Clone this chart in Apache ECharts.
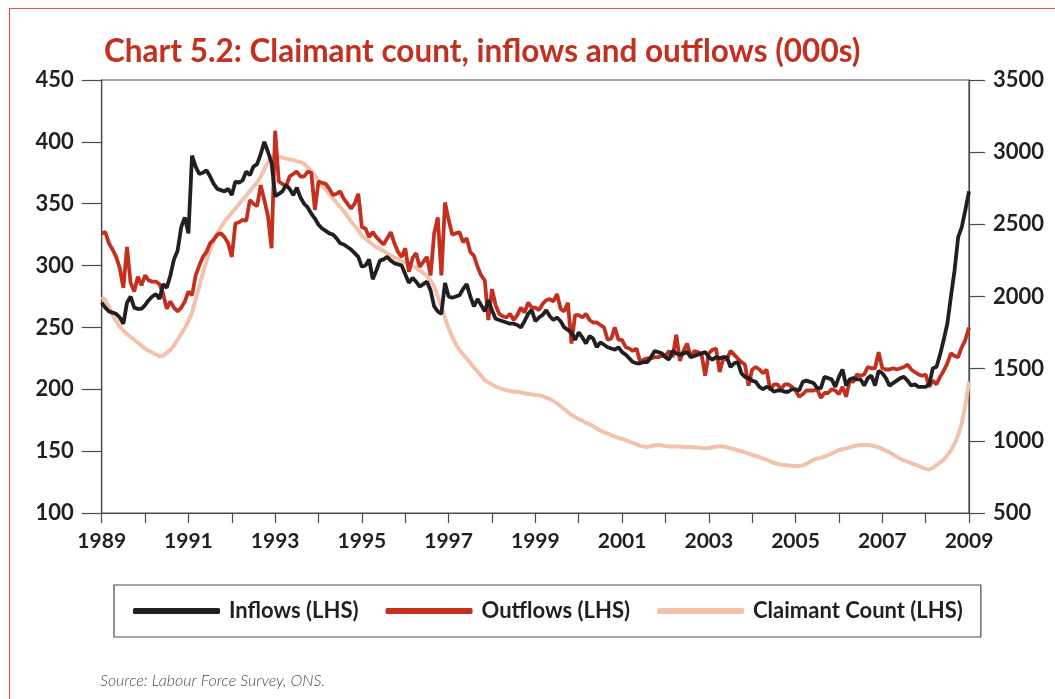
<!DOCTYPE html>
<html>
<head>
<meta charset="utf-8">
<script src="https://cdn.jsdelivr.net/npm/echarts@6/dist/echarts.min.js"></script>
<style>
  html, body { margin: 0; padding: 0; background: #fff; }
  #chart { width: 1055px; height: 699px; }
</style>
</head>
<body>
<div id="chart"></div>
<script>
// monthly, Jan 1989 .. Jan 2009
const startYear = 1989

const inflows = [
  270, 266, 263, 262, 261, 258, 253, 270, 275, 266, 265, 265,
  268, 272, 275, 277, 273, 285, 282, 292, 305, 312, 331, 339,
  326, 389, 380, 374, 375, 377, 372, 366, 362, 361, 360, 362,
  357, 368, 367, 369, 376, 373, 380, 382, 390, 400, 392, 383,
  356, 358, 360, 365, 362, 357, 363, 355, 350, 347, 342, 338,
  333, 330, 328, 326, 325, 322, 318, 317, 315, 313, 310, 307,
  299, 300, 305, 289, 296, 304, 305, 307, 304, 302, 301, 300,
  293, 286, 290, 287, 283, 285, 287, 280, 267, 263, 261, 286,
  275, 274, 275, 276, 281, 285, 275, 267, 273, 268, 263, 272,
  264, 257, 256, 255, 254, 253, 253, 252, 250, 255, 261, 264,
  255, 258, 260, 264, 259, 256, 258, 255, 250, 248, 246, 240,
  246, 242, 237, 243, 241, 234, 238, 236, 234, 233, 232, 234,
  230, 228, 225, 222, 221, 221, 222, 222, 226, 231, 230, 229,
  226, 224, 231, 229, 228, 229, 230, 226, 227, 228, 229, 230,
  226, 224, 226, 225, 226, 226, 218, 221, 222, 213, 210, 209,
  207, 206, 202, 200, 202, 201, 198, 199, 199, 198, 198, 200,
  200, 199, 206, 207, 206, 205, 201, 201, 210, 209, 208, 202,
  210, 216, 203, 208, 209, 208, 208, 203, 209, 211, 203, 215,
  213, 209, 203, 205, 207, 209, 210, 207, 203, 204, 202, 202,
  202, 204, 217, 218, 228, 240, 253, 275, 296, 323, 331, 345,
  360
]

const outflows = [
  326, 327, 318, 313, 307, 298, 282, 315, 286, 279, 291, 284,
  292, 288, 287, 287, 285, 277, 265, 271, 266, 263, 266, 271,
  279, 276, 292, 300, 307, 311, 318, 321, 325, 326, 323, 318,
  307, 334, 335, 337, 336, 353, 350, 348, 365, 353, 340, 314,
  409, 368, 366, 364, 372, 374, 376, 372, 372, 376, 375, 345,
  368, 367, 366, 362, 357, 358, 360, 354, 350, 346, 350, 358,
  331, 330, 323, 327, 323, 320, 317, 322, 327, 318, 311, 307,
  314, 295, 306, 310, 299, 303, 307, 292, 326, 339, 292, 351,
  337, 325, 326, 327, 319, 322, 311, 308, 299, 292, 288, 256,
  281, 268, 261, 259, 258, 261, 256, 260, 266, 262, 270, 266,
  266, 264, 269, 272, 273, 271, 277, 265, 263, 270, 237, 260,
  260, 258, 261, 256, 254, 254, 252, 250, 240, 241, 250, 240,
  240, 234, 233, 231, 233, 222, 224, 225, 225, 226, 226, 227,
  227, 231, 226, 244, 223, 231, 237, 226, 231, 230, 228, 211,
  229, 232, 233, 214, 225, 224, 231, 228, 225, 222, 220, 203,
  216, 218, 216, 213, 216, 199, 204, 204, 200, 204, 204, 202,
  199, 194, 196, 199, 199, 199, 200, 193, 197, 197, 200, 199,
  196, 202, 194, 207, 206, 212, 211, 212, 218, 217, 217, 230,
  217, 216, 216, 217, 216, 217, 218, 220, 216, 214, 212, 211,
  212, 202, 207, 204, 210, 215, 221, 229, 227, 226, 234, 240,
  250
]

// claimant count is read against the right-hand scale
const claimantCount = [
  1997, 1975, 1930, 1870, 1830, 1790, 1765, 1740, 1720, 1700, 1680, 1660,
  1640, 1625, 1610, 1598, 1585, 1590, 1610, 1630, 1660, 1700, 1740, 1780,
  1830, 1890, 1980, 2070, 2160, 2250, 2320, 2390, 2440, 2480, 2520, 2550,
  2580, 2610, 2640, 2670, 2700, 2730, 2760, 2790, 2830, 2880, 2930, 2970,
  2980, 2970, 2962, 2957, 2950, 2945, 2938, 2932, 2920, 2895, 2870, 2840,
  2800, 2770, 2740, 2710, 2680, 2650, 2620, 2590, 2555, 2520, 2490, 2460,
  2420, 2400, 2380, 2360, 2340, 2330, 2315, 2300, 2285, 2270, 2260, 2245,
  2235, 2225, 2210, 2200, 2180, 2165, 2140, 2110, 2070, 2000, 1930, 1850,
  1780, 1720, 1670, 1630, 1600, 1570, 1540, 1510, 1480, 1450, 1420, 1405,
  1390, 1375, 1365, 1358, 1350, 1345, 1340, 1340, 1335, 1330, 1325, 1322,
  1318, 1315, 1310, 1300, 1290, 1275, 1260, 1240, 1220, 1200, 1180, 1165,
  1150, 1140, 1125, 1115, 1100, 1085, 1070, 1060, 1050, 1040, 1030, 1020,
  1015, 1005, 995, 985, 975, 965, 960, 958, 962, 968, 972, 968,
  964, 960, 960, 960, 960, 958, 958, 958, 955, 953, 950, 948,
  950, 955, 960, 962, 960, 955, 948, 942, 935, 928, 920, 912,
  903, 895, 888, 878, 868, 858, 848, 840, 835, 832, 830, 828,
  826, 826, 830, 840, 855, 870, 878, 882, 890, 900, 912, 925,
  935, 942, 948, 955, 962, 968, 971, 972, 971, 968, 962, 955,
  945, 932, 920, 905, 890, 875, 865, 855, 845, 835, 828, 815,
  805, 802, 812, 833, 850, 870, 900, 935, 980, 1040, 1120, 1250,
  1410
]

const leftTicks = [100, 150, 200, 250, 300, 350, 400, 450]
const rightTicks = [500, 1000, 1500, 2000, 2500, 3000, 3500]
const seriesNames = ['Inflows (LHS)', 'Outflows (LHS)', 'Claimant Count (LHS)']

const toPairs = arr => arr.map((v, i) => [startYear + i / 12, v])

const FONT = 'Lato'
const INK = '#231f20'
const AXIS = '#4a4a4a'

let myChart = echarts.init(document.getElementById('chart'))

let option = {
  backgroundColor: '#fff',
  animation: false,
  title: {
    text: 'Chart 5.2: Claimant count, inflows and outflows (000s)',
    left: 99,
    top: 31,
    textStyle: {
      color: '#c1311f',
      fontFamily: FONT,
      fontWeight: 'bold',
      fontSize: 31.5,
    },
  },
  graphic: [
    {
      type: 'rect',
      shape: { x: 9.5, y: 8.5, width: 1100, height: 800 },
      style: { fill: 'none', stroke: '#d9584a', lineWidth: 1.2 },
      silent: true,
    },
    {
      type: 'text',
      left: 100,
      top: 673,
      style: {
        text: 'Source: Labour Force Survey, ONS.',
        fill: '#4d4d4d',
        font: 'italic 300 16px Lato',
      },
    },
  ],
  grid: {
    left: 101.7,
    right: 86,
    top: 80,
    bottom: 186,
    show: true,
    borderColor: AXIS,
    borderWidth: 1.2,
    backgroundColor: 'transparent',
  },
  legend: {
    data: seriesNames,
    left: 114,
    top: 585,
    padding: [15, 18, 15, 19],
    itemGap: 27,
    itemWidth: 87,
    itemHeight: 6,
    icon: 'roundRect',
    borderColor: AXIS,
    borderWidth: 1.2,
    textStyle: {
      color: INK,
      fontFamily: FONT,
      fontWeight: 'bold',
      fontSize: 22,
      padding: [0, 0, 0, 4],
    },
  },
  xAxis: {
    type: 'value',
    min: 1989,
    max: 2009,
    interval: 1,
    axisLine: { show: true, lineStyle: { color: AXIS, width: 1.2 } },
    axisTick: { show: true, length: 10, lineStyle: { color: AXIS, width: 1.2 } },
    splitLine: { show: false },
    axisLabel: {
      margin: 18,
      color: INK,
      fontFamily: FONT,
      fontWeight: 'bold',
      fontSize: 21,
      formatter: v => (v % 2 === 1 ? String(v) : ''),
    },
  },
  yAxis: [
    {
      type: 'value',
      position: 'left',
      min: leftTicks[0],
      max: leftTicks[leftTicks.length - 1],
      interval: 50,
      axisLine: { show: true, lineStyle: { color: AXIS, width: 1.2 } },
      axisTick: { show: true, length: 20, lineStyle: { color: AXIS, width: 1.2 } },
      splitLine: { show: false },
      axisLabel: {
        margin: 28,
        color: INK,
        fontFamily: FONT,
        fontWeight: 'bold',
        fontSize: 22,
        formatter: v => String(v),
      },
    },
    {
      type: 'value',
      position: 'right',
      min: rightTicks[0],
      max: rightTicks[rightTicks.length - 1],
      interval: 500,
      axisLine: { show: true, lineStyle: { color: AXIS, width: 1.2 } },
      axisTick: { show: true, length: 16, lineStyle: { color: AXIS, width: 1.2 } },
      splitLine: { show: false },
      axisLabel: {
        margin: 24,
        color: INK,
        fontFamily: FONT,
        fontWeight: 'bold',
        fontSize: 22,
        formatter: v => String(v),
      },
    },
  ],
  series: [
    {
      name: seriesNames[2],
      type: 'line',
      yAxisIndex: 1,
      showSymbol: false,
      z: 1,
      data: toPairs(claimantCount),
      color: '#f2c2ab',
      lineStyle: { color: '#f2c2ab', width: 4 },
    },
    {
      name: seriesNames[1],
      type: 'line',
      yAxisIndex: 0,
      showSymbol: false,
      z: 2,
      data: toPairs(outflows),
      color: '#c4301f',
      lineStyle: { color: '#c4301f', width: 3.8 },
    },
    {
      name: seriesNames[0],
      type: 'line',
      yAxisIndex: 0,
      showSymbol: false,
      z: 3,
      data: toPairs(inflows),
      color: '#231f20',
      lineStyle: { color: '#231f20', width: 3.8 },
    },
  ],
}

myChart.setOption(option)
</script>
</body>
</html>
